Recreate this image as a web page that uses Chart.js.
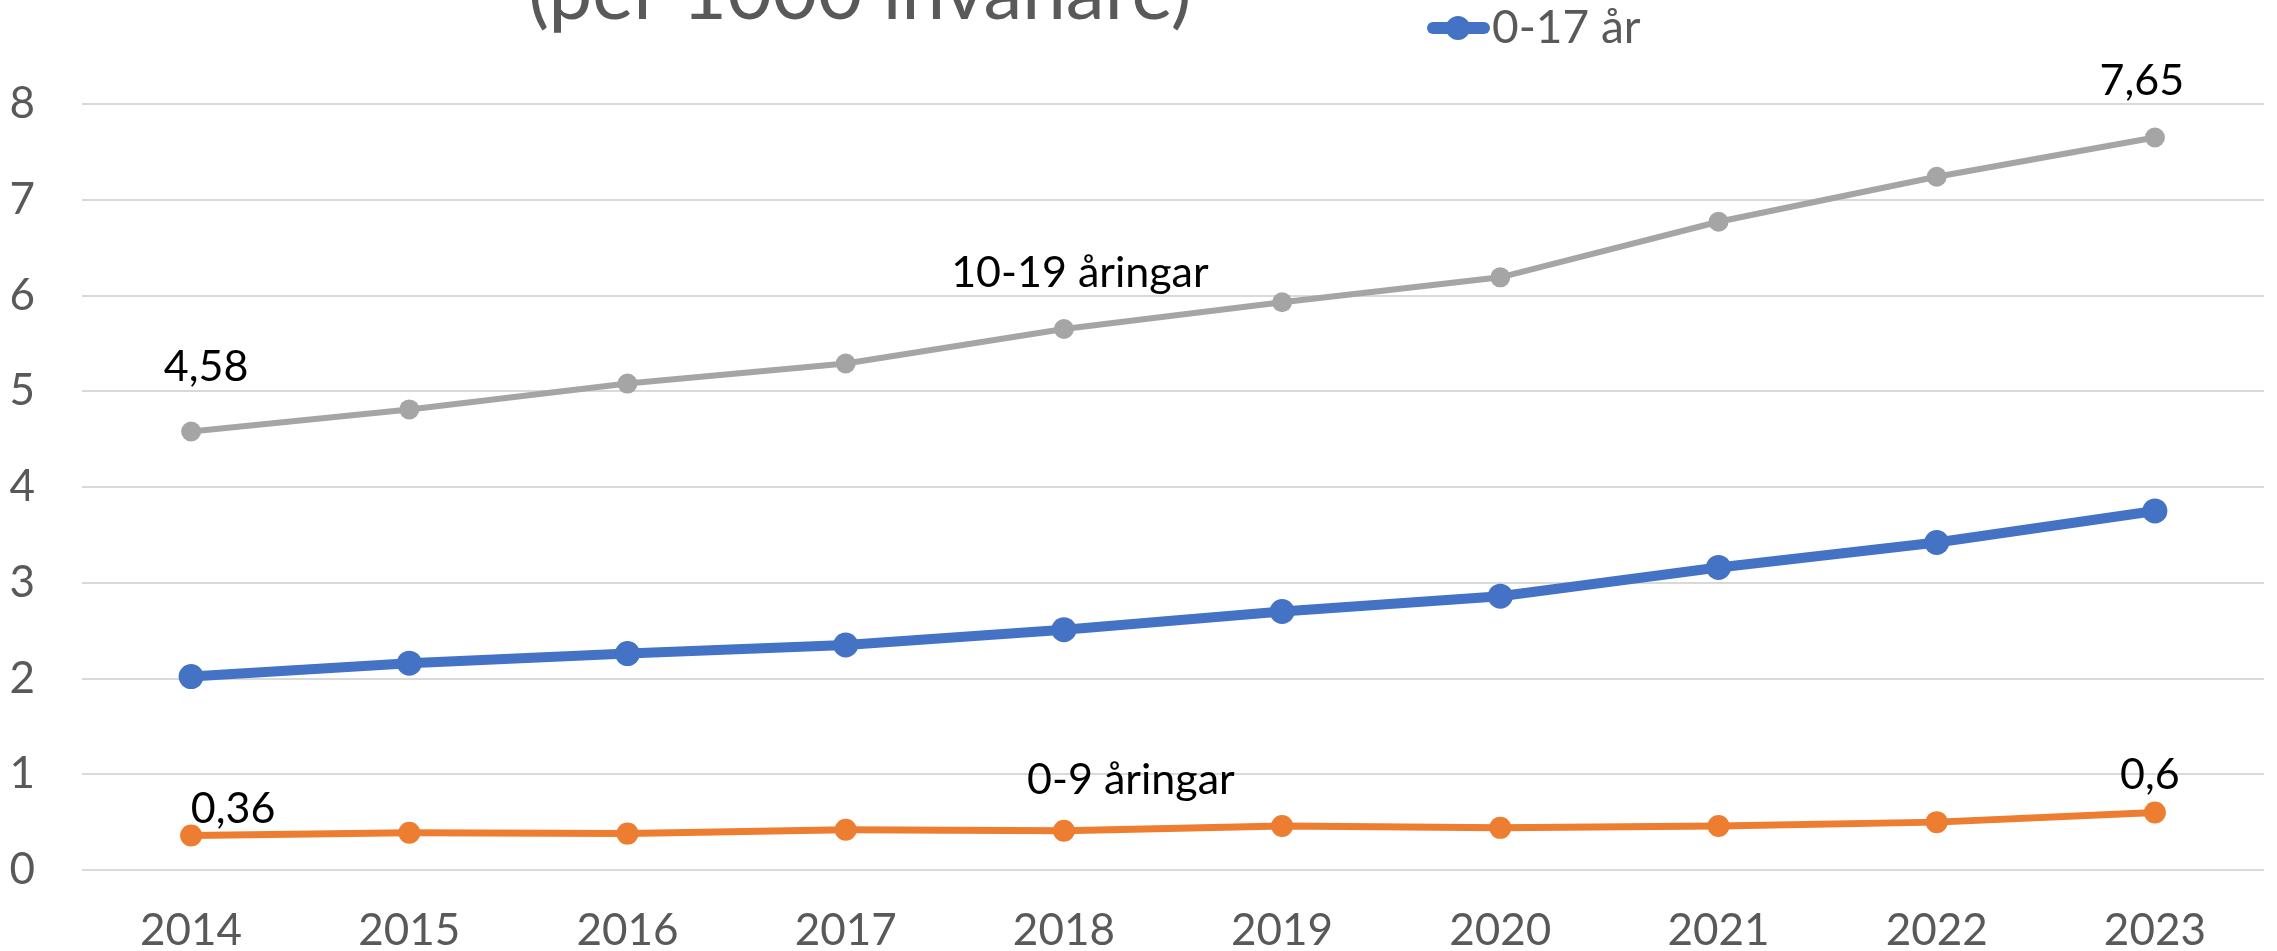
<!DOCTYPE html>
<html>
<head>
<meta charset="utf-8">
<title>Per 1000 invånare</title>
<script src="https://cdn.jsdelivr.net/npm/chart.js@4.4.1/dist/chart.umd.min.js"></script>
<style>
    html, body { margin: 0; padding: 0; background: #fff; }
    #wrap { width: 2277px; height: 951px; position: relative; }
</style>
</head>
<body>
<div id="wrap"><canvas id="lineChart"></canvas></div>
<script>
// data
const years = ['2014', '2015', '2016', '2017', '2018', '2019', '2020', '2021', '2022', '2023'];
const ages10to19 = [4.58, 4.81, 5.08, 5.29, 5.65, 5.93, 6.19, 6.77, 7.24, 7.65];
const ages0to17 = [2.02, 2.16, 2.26, 2.35, 2.51, 2.70, 2.86, 3.16, 3.42, 3.75];
const ages0to9 = [0.36, 0.39, 0.38, 0.42, 0.41, 0.46, 0.44, 0.46, 0.50, 0.60];

const labels10to19 = ['4,58', null, null, null, '10-19 åringar', null, null, null, null, '7,65'];
const labels0to9 = ['0,36', null, null, null, '0-9 åringar', null, null, null, null, '0,6'];

const titleText = '(per 1000 invånare)';
const legendText = '0-17 år';

const FONT = 'Lato';
const GREY_TEXT = '#595959';

// [dx, baseline above point]
const offsets10to19 = [[15, 50], null, null, null, [16, 42], null, null, null, null, [-13, 43]];
const offsets0to9 = [[42, 13], null, null, null, [67, 37], null, null, null, null, [-5, 24]];

const pointLabelPlugin = {
    id: 'pointLabels',
    afterDatasetsDraw: function(chart) {
        var ctx = chart.ctx;
        ctx.save();
        ctx.font = '43px ' + FONT;
        ctx.fillStyle = '#000';
        ctx.textAlign = 'center';
        ctx.textBaseline = 'alphabetic';
        chart.data.datasets.forEach(function(ds, i) {
            if (!ds.pointLabels) return;
            var meta = chart.getDatasetMeta(i);
            ds.pointLabels.forEach(function(txt, j) {
                if (!txt) return;
                var pt = meta.data[j];
                var off = ds.pointLabelOffsets[j] || [0, 20];
                ctx.fillText(txt, pt.x + off[0], pt.y - off[1]);
            });
        });
        ctx.restore();
    }
};

// title (its first line is cut off in the reference) and the single legend entry
const headerPlugin = {
    id: 'header',
    afterDraw: function(chart) {
        var ctx = chart.ctx;
        ctx.save();
        ctx.fillStyle = GREY_TEXT;
        ctx.font = '78px ' + FONT;
        ctx.textAlign = 'center';
        ctx.textBaseline = 'alphabetic';
        ctx.fillText(titleText, 860, 19);

        var ds = chart.data.datasets[1];
        ctx.strokeStyle = ds.borderColor;
        ctx.lineWidth = 12;
        ctx.lineCap = 'round';
        ctx.beginPath();
        ctx.moveTo(1433, 28);
        ctx.lineTo(1484, 28);
        ctx.stroke();
        ctx.fillStyle = ds.borderColor;
        ctx.beginPath();
        ctx.arc(1458, 28, 12, 0, Math.PI * 2);
        ctx.fill();

        ctx.fillStyle = GREY_TEXT;
        ctx.font = '46px ' + FONT;
        ctx.textAlign = 'left';
        ctx.fillText(legendText, 1492, 43);
        ctx.restore();
    }
};

new Chart(document.getElementById('lineChart').getContext('2d'), {
    type: 'line',
    data: {
        labels: years,
        datasets: [
            {
                label: '10-19 åringar',
                data: ages10to19,
                borderColor: '#A5A5A5',
                backgroundColor: '#A5A5A5',
                borderWidth: 6,
                pointRadius: 10,
                pointBorderWidth: 0,
                pointBackgroundColor: '#A5A5A5',
                tension: 0,
                pointLabels: labels10to19,
                pointLabelOffsets: offsets10to19
            },
            {
                label: legendText,
                data: ages0to17,
                borderColor: '#4472C4',
                backgroundColor: '#4472C4',
                borderWidth: 10,
                pointRadius: 12.5,
                pointBorderWidth: 0,
                pointBackgroundColor: '#4472C4',
                tension: 0
            },
            {
                label: '0-9 åringar',
                data: ages0to9,
                borderColor: '#ED7D31',
                backgroundColor: '#ED7D31',
                borderWidth: 7,
                pointRadius: 11,
                pointBorderWidth: 0,
                pointBackgroundColor: '#ED7D31',
                tension: 0,
                pointLabels: labels0to9,
                pointLabelOffsets: offsets0to9
            }
        ]
    },
    options: {
        responsive: true,
        maintainAspectRatio: false,
        animation: false,
        layout: {
            autoPadding: false,
            padding: { top: 104, right: 13, bottom: 2, left: 10 }
        },
        plugins: {
            legend: { display: false },
            title: { display: false },
            tooltip: { enabled: false }
        },
        scales: {
            x: {
                offset: true,
                grid: { display: false },
                border: { display: false },
                ticks: {
                    color: GREY_TEXT,
                    font: { family: FONT, size: 44, lineHeight: 1 },
                    padding: 31,
                    maxRotation: 0
                },
                afterFit: function(scale) { scale.height = 79; }
            },
            y: {
                min: 0,
                max: 8,
                grid: { color: '#D9D9D9', lineWidth: 2, drawTicks: false },
                border: { display: false },
                ticks: {
                    stepSize: 1,
                    color: GREY_TEXT,
                    font: { family: FONT, size: 44 },
                    padding: 47
                },
                afterFit: function(scale) { scale.width = 72; }
            }
        }
    },
    plugins: [pointLabelPlugin, headerPlugin]
});
</script>
</body>
</html>
